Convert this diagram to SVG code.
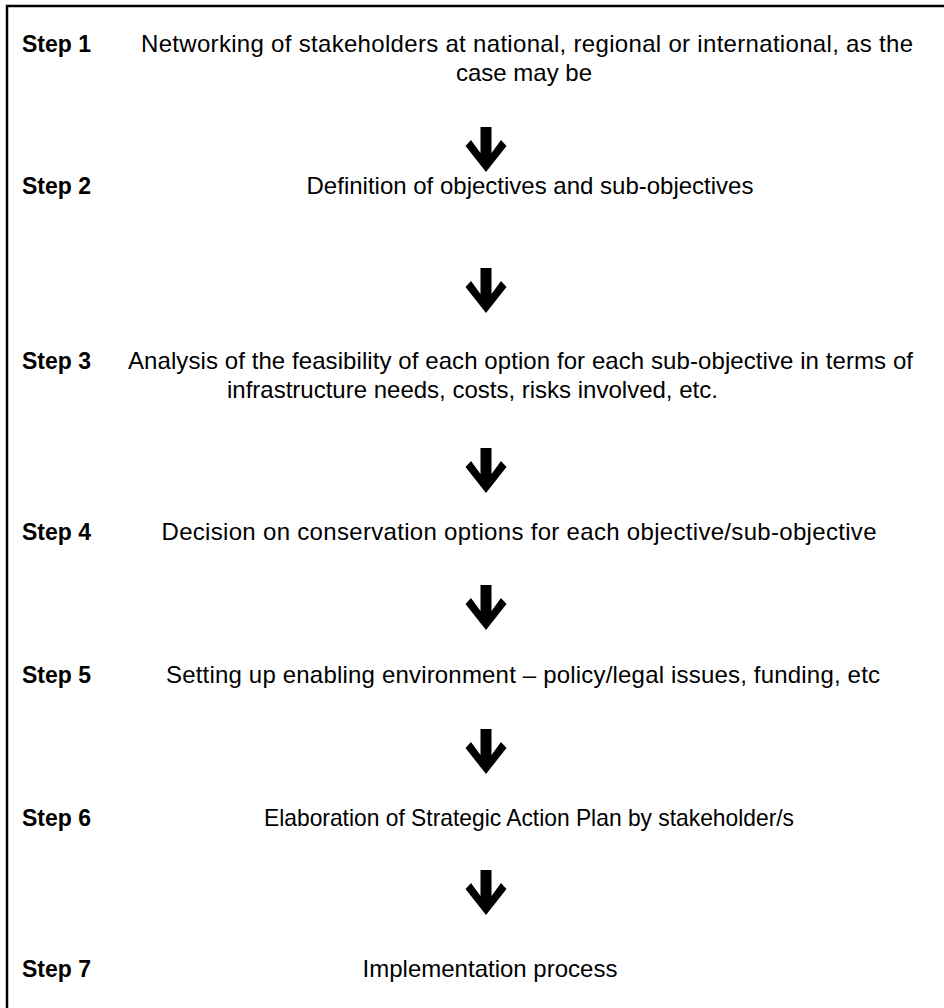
<svg xmlns="http://www.w3.org/2000/svg" width="944" height="1008" viewBox="0 0 944 1008">
<style>
.t{font-family:"Liberation Sans",Arial,sans-serif;font-size:24px;fill:#000}
.l{font-family:"Liberation Sans",Arial,sans-serif;font-size:23px;font-weight:bold;fill:#000}
.c{text-anchor:middle}
.arr{fill:#000}
</style>
<defs>
<polygon id="dn" class="arr" points="-5.5,0 5.5,0 5.5,26 15,13 20.5,19 0,45 -20.5,19 -15,13 -5.5,26"/>
</defs>
<rect width="944" height="1008" fill="#fff"/>
<path d="M7,1008 V6 H944" fill="none" stroke="#000" stroke-width="2.5"/>
<g id="step1">
<text class="l" x="22" y="52">Step 1</text>
<text class="t" x="141" y="52" textLength="772" lengthAdjust="spacing">Networking of stakeholders at national, regional or international, as the</text>
<text class="t c" x="524" y="81">case may be</text>
</g>
<g id="step2">
<text class="l" x="22" y="194">Step 2</text>
<text class="t c" x="530" y="194">Definition of objectives and sub-objectives</text>
</g>
<g id="step3">
<text class="l" x="22" y="369">Step 3</text>
<text class="t" x="128" y="369" textLength="785" lengthAdjust="spacing">Analysis of the feasibility of each option for each sub-objective in terms of</text>
<text class="t" x="227" y="398">infrastructure needs, costs, risks involved, etc.</text>
</g>
<g id="step4">
<text class="l" x="22" y="540">Step 4</text>
<text class="t c" x="519" y="540" textLength="715" lengthAdjust="spacing">Decision on conservation options for each objective/sub-objective</text>
</g>
<g id="step5">
<text class="l" x="22" y="683">Step 5</text>
<text class="t c" x="523" y="683" textLength="714" lengthAdjust="spacing">Setting up enabling environment – policy/legal issues, funding, etc</text>
</g>
<g id="step6">
<text class="l" x="22" y="826">Step 6</text>
<text class="t c" x="529" y="826" textLength="530" lengthAdjust="spacingAndGlyphs">Elaboration of Strategic Action Plan by stakeholder/s</text>
</g>
<g id="step7">
<text class="l" x="22" y="977">Step 7</text>
<text class="t c" x="490" y="977">Implementation process</text>
</g>
<g id="connectors">
<use href="#dn" x="486" y="127"/>
<use href="#dn" x="486" y="268"/>
<use href="#dn" x="486" y="448"/>
<use href="#dn" x="486" y="585"/>
<use href="#dn" x="486" y="729"/>
<use href="#dn" x="486" y="870"/>
</g>
</svg>
